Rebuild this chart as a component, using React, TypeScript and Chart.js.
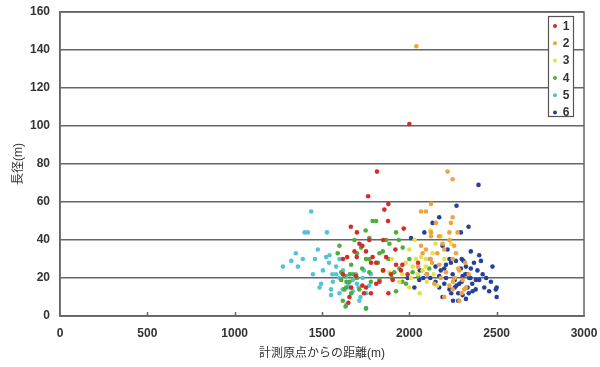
import React, { useEffect, useRef } from "react";
import { Chart, registerables } from "chart.js";

Chart.register(...registerables);

const seriesLabels = ["1", "2", "3", "4", "5", "6"];
const seriesColors = ["#d62b2b", "#f0a23c", "#e6e04a", "#4daf3a", "#52c3d8", "#27409a"];

const s1x = [2000, 1815, 1764, 1880, 1857, 1878, 1665, 1968, 1771, 1714, 1644, 1699, 1752, 1731, 1781, 1867, 1924, 1695, 1752, 1810, 1657, 1651, 1952, 1895, 1686, 1810, 1851, 1905, 1960, 1731, 1829, 1667, 1620, 1880, 2050, 1790, 1740, 1990, 1620, 1700, 1920, 1850, 1780];
const s1y = [101, 76, 63, 59, 56, 50, 47, 46, 40, 38, 31, 31, 34, 37, 28, 31, 27, 21, 15, 17, 10, 7, 24, 22, 34, 28, 24, 19, 27, 16, 18, 15, 22, 12, 28, 31, 12, 22, 30, 44, 35, 40, 12];

const s2x = [2040, 2219, 2248, 2124, 2067, 2095, 2248, 2152, 2238, 2124, 2229, 2276, 2095, 2076, 2257, 2267, 2248, 2171, 2210, 2305, 2324, 2286, 2143, 2229, 2248, 2314, 2050, 2100, 2180, 2190, 2230, 2280, 2260, 2120, 2160, 2200, 2340, 2320, 2067, 2124, 2286, 2170, 2200, 2130, 2250, 2300];
const s2y = [142, 76, 72, 59, 55, 55, 52, 49, 49, 44, 44, 44, 35, 33, 37, 33, 30, 27, 23, 19, 15, 8, 17, 16, 14, 14, 26, 22, 20, 38, 40, 25, 20, 30, 33, 10, 22, 28, 37, 42, 24, 42, 35, 28, 18, 12];

const s3x = [2000, 2038, 2076, 1943, 2000, 2048, 2095, 2133, 1886, 2067, 2095, 2150, 2180, 2120, 2030, 1980, 2100, 2160, 2060, 1960, 2010, 2200, 2140, 1900, 2020, 2240];
const s3y = [35, 30, 24, 18, 15, 22, 30, 33, 23, 31, 26, 38, 42, 45, 40, 28, 18, 16, 12, 22, 20, 30, 22, 30, 26, 38];

const s4x = [1810, 1790, 1924, 1867, 1600, 1590, 1724, 1771, 1829, 1962, 1610, 1629, 1657, 1629, 1619, 1667, 1848, 1914, 1981, 1924, 1829, 1771, 1686, 1771, 1886, 1848, 1752, 1667, 1943, 2019, 1714, 1752, 1638, 1610, 2114, 2000, 1700, 1940, 1680, 1730, 1635, 1750, 1820, 1880, 1700, 1660, 1640, 1780, 1900, 1960, 2050];
const s4y = [50, 50, 44, 40, 37, 33, 36, 30, 33, 36, 23, 21, 18, 14, 8, 12, 24, 23, 17, 13, 19, 23, 40, 41, 38, 34, 30, 27, 25, 23, 14, 4, 15, 19, 25, 30, 20, 40, 22, 25, 5, 45, 28, 30, 33, 22, 18, 18, 20, 18, 21];

const s5x = [1438, 1400, 1419, 1528, 1324, 1362, 1390, 1276, 1476, 1524, 1543, 1505, 1495, 1552, 1552, 1581, 1638, 1676, 1695, 1733, 1657, 1676, 1752, 1771, 1752, 1714, 1581, 1600, 1448, 1486, 1562, 1619, 1660, 1700, 1740, 1780, 1720, 1640, 1600, 1620, 1650, 1690, 1710, 1560, 1540, 1460, 1350, 1600];
const s5y = [55, 44, 44, 44, 29, 26, 30, 26, 35, 31, 32, 24, 17, 14, 11, 22, 21, 19, 22, 20, 15, 13, 12, 16, 4, 8, 26, 30, 22, 15, 18, 14, 22, 17, 24, 22, 10, 6, 20, 24, 17, 20, 15, 22, 28, 30, 33, 12];

const s6x = [2396, 2270, 2171, 2339, 2086, 2295, 2133, 2352, 2400, 2410, 2190, 2219, 2238, 2267, 2295, 2324, 2352, 2390, 2171, 2210, 2248, 2305, 2343, 2381, 2286, 2333, 2362, 2305, 2171, 2190, 2324, 2429, 2457, 2495, 2500, 2500, 2467, 2476, 1990, 2029, 2057, 2010, 2120, 2200, 2260, 2280, 2320, 2360, 2250, 2230, 2150, 2100, 2420, 2440, 2370, 2300, 2180, 2270, 2340, 2080, 2150, 2210, 2240, 2310, 2330, 2280, 2350, 2300, 2200, 2120, 2060, 2400, 2380, 2260, 2230];
const s6y = [69, 58, 52, 47, 44, 44, 49, 34, 32, 29, 37, 35, 28, 29, 25, 26, 25, 24, 21, 20, 22, 21, 20, 19, 17, 15, 13, 11, 15, 10, 9, 15, 13, 14, 15, 10, 18, 26, 20, 15, 19, 41, 30, 25, 19, 12, 22, 17, 8, 14, 18, 22, 22, 20, 28, 30, 24, 16, 12, 20, 26, 27, 12, 29, 22, 8, 20, 18, 17, 20, 24, 19, 14, 15, 30];

const xsAll = [s1x, s2x, s3x, s4x, s5x, s6x];
const ysAll = [s1y, s2y, s3y, s4y, s5y, s6y];

const xMin = 0;
const xMax = 3000;
const xStep = 500;
const yMin = 0;
const yMax = 160;
const yStep = 20;

const xTitle = "計測原点からの距離(m)";
const yTitle = "長径(m)";

const FONT = 'Arial, "Liberation Sans", "Noto Sans CJK JP", sans-serif';

const framePlugin = {
  id: "frame",
  afterDraw(chart: any) {
    const { ctx, chartArea } = chart;
    const xs = chart.scales.x;
    ctx.save();
    ctx.strokeStyle = "#666";
    ctx.lineWidth = 1.5;
    ctx.strokeRect(chartArea.left, chartArea.top, chartArea.right - chartArea.left, chartArea.bottom - chartArea.top);
    for (let v = xMin + xStep; v < xMax; v += xStep) {
      const px = Math.round(xs.getPixelForValue(v)) + 0.5;
      ctx.beginPath();
      ctx.moveTo(px, chartArea.bottom);
      ctx.lineTo(px, chartArea.bottom - 4);
      ctx.stroke();
    }
    const bw = 25;
    const bh = 100;
    const bx = chartArea.right - 11 - bw;
    const by = chartArea.top + 4;
    ctx.fillStyle = "#fff";
    ctx.fillRect(bx, by, bw, bh);
    ctx.strokeStyle = "#555";
    ctx.lineWidth = 1.2;
    ctx.strokeRect(bx + 0.5, by + 0.5, bw, bh);
    ctx.font = "bold 12px " + FONT;
    ctx.textAlign = "center";
    ctx.textBaseline = "middle";
    seriesLabels.forEach((lab, i) => {
      const cy = by + 10 + i * 17.3;
      ctx.fillStyle = seriesColors[i];
      ctx.beginPath();
      ctx.arc(bx + 7, cy, 2, 0, Math.PI * 2);
      ctx.fill();
      ctx.fillStyle = "#333";
      ctx.fillText(lab, bx + 18, cy + 0.5);
    });
    ctx.restore();
  },
};

export default function App() {
  const ref = useRef<HTMLCanvasElement | null>(null);
  useEffect(() => {
    if (!ref.current) return;
    const datasets = seriesLabels.map((lab, i) => ({
      label: lab,
      data: xsAll[i].map((x, j) => ({ x, y: ysAll[i][j] })),
      backgroundColor: seriesColors[i],
      borderColor: seriesColors[i],
      pointRadius: 2.3,
      pointBorderWidth: 0,
    }));
    const zeroPad = (s: any) => {
      s.paddingLeft = 0;
      s.paddingRight = 0;
      s.paddingTop = 0;
      s.paddingBottom = 0;
    };
    const chart = new Chart(ref.current, {
      type: "scatter",
      data: { datasets },
      options: {
        animation: false,
        responsive: true,
        maintainAspectRatio: false,
        layout: { padding: { top: 12, right: 16, left: 0, bottom: 0 } },
        plugins: { legend: { display: false }, tooltip: { enabled: false } },
        scales: {
          x: {
            type: "linear",
            min: xMin,
            max: xMax,
            ticks: { stepSize: xStep, padding: 10, color: "#333", font: { family: FONT, size: 12, weight: "bold" }, maxRotation: 0, callback: (v: any) => String(v) },
            grid: { display: false, drawTicks: false },
            border: { display: true, color: "#666", width: 1.5 },
            title: { display: true, text: xTitle, color: "#333", font: { family: FONT, size: 12 }, padding: { top: 0, bottom: 6 } },
            afterFit: (s: any) => { s.height = 51; zeroPad(s); },
          },
          y: {
            type: "linear",
            min: yMin,
            max: yMax,
            ticks: { stepSize: yStep, padding: 10, color: "#333", font: { family: FONT, size: 12, weight: "bold" }, callback: (v: any) => String(v) },
            grid: { color: "#666", lineWidth: 1.5, drawTicks: false },
            border: { display: true, color: "#666", width: 1.5 },
            title: { display: true, text: yTitle, color: "#333", font: { family: FONT, size: 12 }, padding: { top: 11, bottom: 0 } },
            afterFit: (s: any) => { s.width = 60; zeroPad(s); },
          },
        },
      },
      plugins: [framePlugin],
    });
    return () => chart.destroy();
  }, []);
  return (
    <div style={{ position: "absolute", left: 0, top: 0, width: 600, height: 367, background: "#fff" }}>
      <canvas ref={ref} />
    </div>
  );
}
